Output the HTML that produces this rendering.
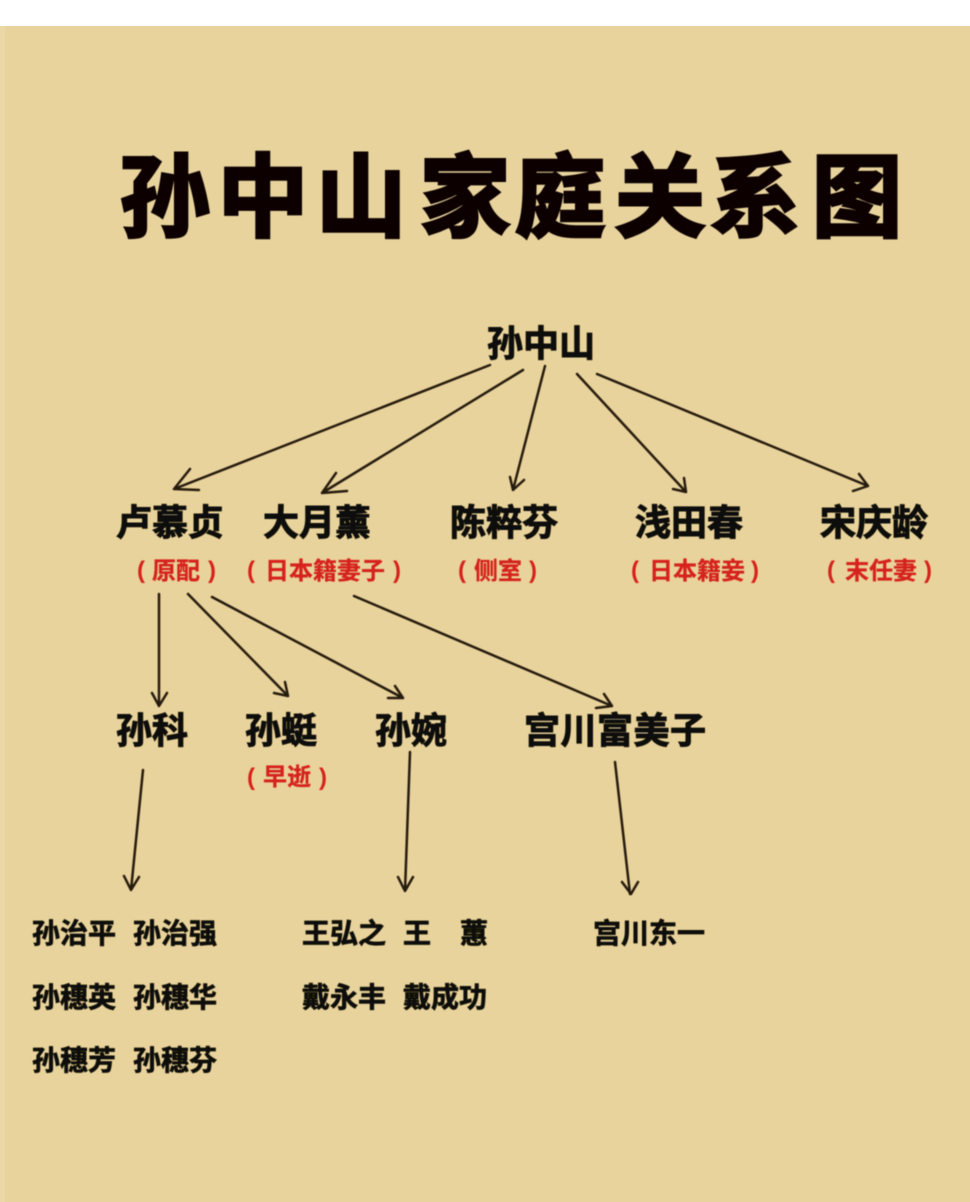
<!DOCTYPE html>
<html lang="zh"><head><meta charset="utf-8"><title>孙中山家庭关系图</title>
<style>
html,body{margin:0;padding:0;width:970px;height:1202px;overflow:hidden;background:#fff}
svg{display:block}
text{font-family:"Liberation Sans","Noto Sans CJK SC",sans-serif;font-weight:700}
.t{font-size:90px;fill:#080604;stroke:#080604;stroke-width:3.5px;stroke-linejoin:miter}
.n{font-size:36px;fill:#100c07;stroke:#100c07;stroke-width:1px}
.g{font-size:28px;fill:#100c07;stroke:#100c07;stroke-width:.7px}
.r{font-size:24px;fill:#d5241c;stroke:#d5241c;stroke-width:.3px}
.p{font-size:24px;fill:#d5241c;font-weight:700}
.a{fill:none;stroke:#251a0e;stroke-width:2.5px;stroke-linecap:round;stroke-linejoin:round}
</style></head><body>
<svg width="970" height="1202" viewBox="0 0 970 1202" xmlns="http://www.w3.org/2000/svg">
<defs><filter id="b" x="-5%" y="-5%" width="110%" height="110%"><feGaussianBlur stdDeviation="0.5"/></filter></defs>
<rect width="970" height="1202" fill="#fff"/>
<rect y="26" width="970" height="1176" fill="#e9d39c"/>
<rect y="26" width="5" height="1176" fill="#ecd7a6"/>
<g filter="url(#b)">
<text class="t" x="120 218 316 420 515 615 710 812" y="229">孙中山家庭关系图</text>

<text class="n" x="487" y="356">孙中山</text>
<text class="n" x="116" y="535">卢慕贞</text>
<text class="n" x="263" y="535">大月薰</text>
<text class="n" x="450" y="535">陈粹芬</text>
<text class="n" x="635" y="535">浅田春</text>
<text class="n" x="820" y="535">宋庆龄</text>

<text class="p" x="137" y="578">(</text><text class="r" x="152" y="579">原配</text><text class="p" x="208" y="578">)</text>
<text class="p" x="247" y="578">(</text><text class="r" x="265" y="579">日本籍妻子</text><text class="p" x="393" y="578">)</text>
<text class="p" x="458" y="578">(</text><text class="r" x="474" y="579">侧室</text><text class="p" x="529" y="578">)</text>
<text class="p" x="631" y="578">(</text><text class="r" x="649" y="579">日本籍妾</text><text class="p" x="751" y="578">)</text>
<text class="p" x="827" y="578">(</text><text class="r" x="845" y="579">末任妻</text><text class="p" x="924" y="578">)</text>

<text class="n" x="116" y="743">孙科</text>
<text class="n" x="245" y="743">孙蜓</text>
<text class="n" x="375" y="743">孙婉</text>
<text class="n" x="524" y="743" letter-spacing=".5">宫川富美子</text>
<text class="p" x="247" y="785">(</text><text class="r" x="263" y="785">早逝</text><text class="p" x="319" y="785">)</text>

<text class="g" x="32" y="943">孙治平</text><text class="g" x="133" y="943">孙治强</text>
<text class="g" x="32" y="1007">孙穗英</text><text class="g" x="133" y="1007">孙穗华</text>
<text class="g" x="32" y="1070">孙穗芳</text><text class="g" x="133" y="1070">孙穗芬</text>
<text class="g" x="302" y="943">王弘之</text><text class="g" x="403" y="943">王</text><text class="g" x="460" y="943">蕙</text>
<text class="g" x="302" y="1007">戴永丰</text><text class="g" x="403" y="1007">戴成功</text>
<text class="g" x="593" y="943">宫川东一</text>

<path class="a" d="M490 365L174 489M190 469L174 489L199 490"/>
<path class="a" d="M523 370L322 493M336 473L322 493L347 491"/>
<path class="a" d="M545 366L513 490M510 477L513 490L524 480"/>
<path class="a" d="M577 374L686 492M673 489L686 492L684 478"/>
<path class="a" d="M597 374L868 486M853 491L868 486L859 474"/>
<path class="a" d="M159 594L159 706M152 693L159 706L167 693"/>
<path class="a" d="M188 594L288 696M274 693L288 696L285 682"/>
<path class="a" d="M212 597L403 698M388 698L403 698L395 686"/>
<path class="a" d="M354 596L612 706M596 708L612 706L604 694"/>
<path class="a" d="M143 770L131 890M124 876L131 890L139 877"/>
<path class="a" d="M410 752L405 891M398 877L405 891L413 877"/>
<path class="a" d="M615 762L630 894M622 882L631 894L638 882"/>
</g>
</svg>
</body></html>
